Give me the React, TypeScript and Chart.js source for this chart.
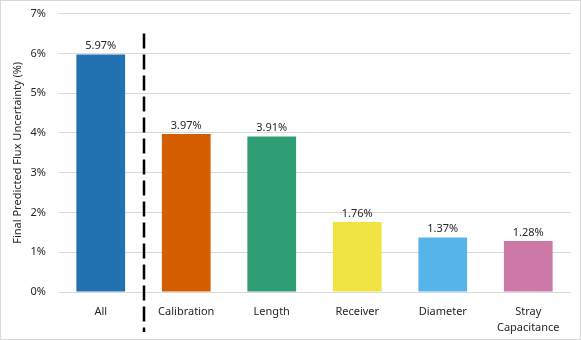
import React, { useEffect, useRef } from "react";
import { Chart, registerables } from "chart.js";

Chart.register(...registerables);

const categories: (string | string[])[] = ["All", "Calibration", "Length", "Receiver", "Diameter", ["Stray", "Capacitance"]];
const values: number[] = [5.97, 3.97, 3.91, 1.76, 1.37, 1.28];
const barColors: string[] = ["#2271B3", "#D55E00", "#2F9E74", "#F0E442", "#56B4E9", "#CC79A7"];
const yTitle = "Final Predicted Flux Uncertainty (%)";
const yMax = 7;
const yStep = 1;
const dividerTopValue = 6.5;

const FONT = "'Noto Sans', sans-serif";
const SHIFT = 5;

const borderPlugin = {
  id: "outerBorder",
  beforeDraw(chart: any) {
    const ctx = chart.ctx;
    ctx.save();
    ctx.fillStyle = "#ffffff";
    ctx.fillRect(0, 0, chart.width, chart.height);
    ctx.strokeStyle = "#d9d9d9";
    ctx.lineWidth = 1;
    ctx.strokeRect(0.5, SHIFT + 0.5, chart.width - 1, chart.height - SHIFT - 1);
    ctx.restore();
  },
};

const labelsPlugin = {
  id: "valueLabels",
  afterDatasetsDraw(chart: any) {
    const ctx = chart.ctx;
    const meta = chart.getDatasetMeta(0);
    ctx.save();
    ctx.font = `11px ${FONT}`;
    ctx.fillStyle = "#262626";
    ctx.textAlign = "center";
    ctx.textBaseline = "bottom";
    meta.data.forEach((bar: any, i: number) => {
      ctx.fillText(values[i].toFixed(2) + "%", bar.x, bar.y - 3);
    });
    ctx.restore();
  },
};

const dividerPlugin = {
  id: "divider",
  afterDatasetsDraw(chart: any) {
    const xs = chart.scales.x;
    const ys = chart.scales.y;
    const x = Math.round((xs.getPixelForValue(0) + xs.getPixelForValue(1)) / 2);
    const y1 = ys.getPixelForValue(dividerTopValue);
    const y2 = chart.height - 8;
    const ctx = chart.ctx;
    ctx.save();
    ctx.strokeStyle = "#000000";
    ctx.lineWidth = 2.5;
    ctx.setLineDash([15, 6]);
    ctx.beginPath();
    ctx.moveTo(x, y1);
    ctx.lineTo(x, y2);
    ctx.stroke();
    ctx.restore();
  },
};

export default function App() {
  const ref = useRef<HTMLCanvasElement | null>(null);
  useEffect(() => {
    if (!ref.current) return;
    const chart = new Chart(ref.current, {
      type: "bar",
      data: {
        labels: categories,
        datasets: [
          {
            data: values,
            backgroundColor: barColors,
            borderWidth: 0,
            categoryPercentage: 1,
            barPercentage: 0.57,
          },
        ],
      },
      options: {
        responsive: false,
        animation: false,
        plugins: {
          legend: { display: false },
          tooltip: { enabled: false },
        },
        layout: { autoPadding: false, padding: { top: 8, right: 10, left: 0, bottom: 0 } },
        scales: {
          x: {
            grid: { display: false },
            border: { display: false },
            ticks: {
              color: "#262626",
              font: { family: FONT, size: 11, lineHeight: 1.45 },
              padding: 4,
              maxRotation: 0,
              autoSkip: false,
            },
            afterFit(scale: any) {
              scale.height = 48;
            },
          },
          y: {
            min: 0,
            max: yMax,
            grid: { color: "#d9d9d9", lineWidth: 1, drawTicks: false },
            border: { display: false },
            ticks: {
              stepSize: yStep,
              color: "#262626",
              font: { family: FONT, size: 11 },
              padding: 12,
              callback: (v: any) => v + "%",
            },
            title: {
              display: true,
              text: yTitle,
              color: "#262626",
              font: { family: FONT, size: 11 },
              padding: { top: 11, bottom: 2 },
            },
            afterFit(scale: any) {
              scale.width = 58;
            },
          },
        },
      },
      plugins: [borderPlugin, labelsPlugin, dividerPlugin],
    });
    return () => chart.destroy();
  }, []);
  return (
    <div style={{ position: "absolute", left: 0, top: -SHIFT, width: 581, height: 340 + SHIFT }}>
      <canvas ref={ref} width={581} height={340 + SHIFT} />
    </div>
  );
}
